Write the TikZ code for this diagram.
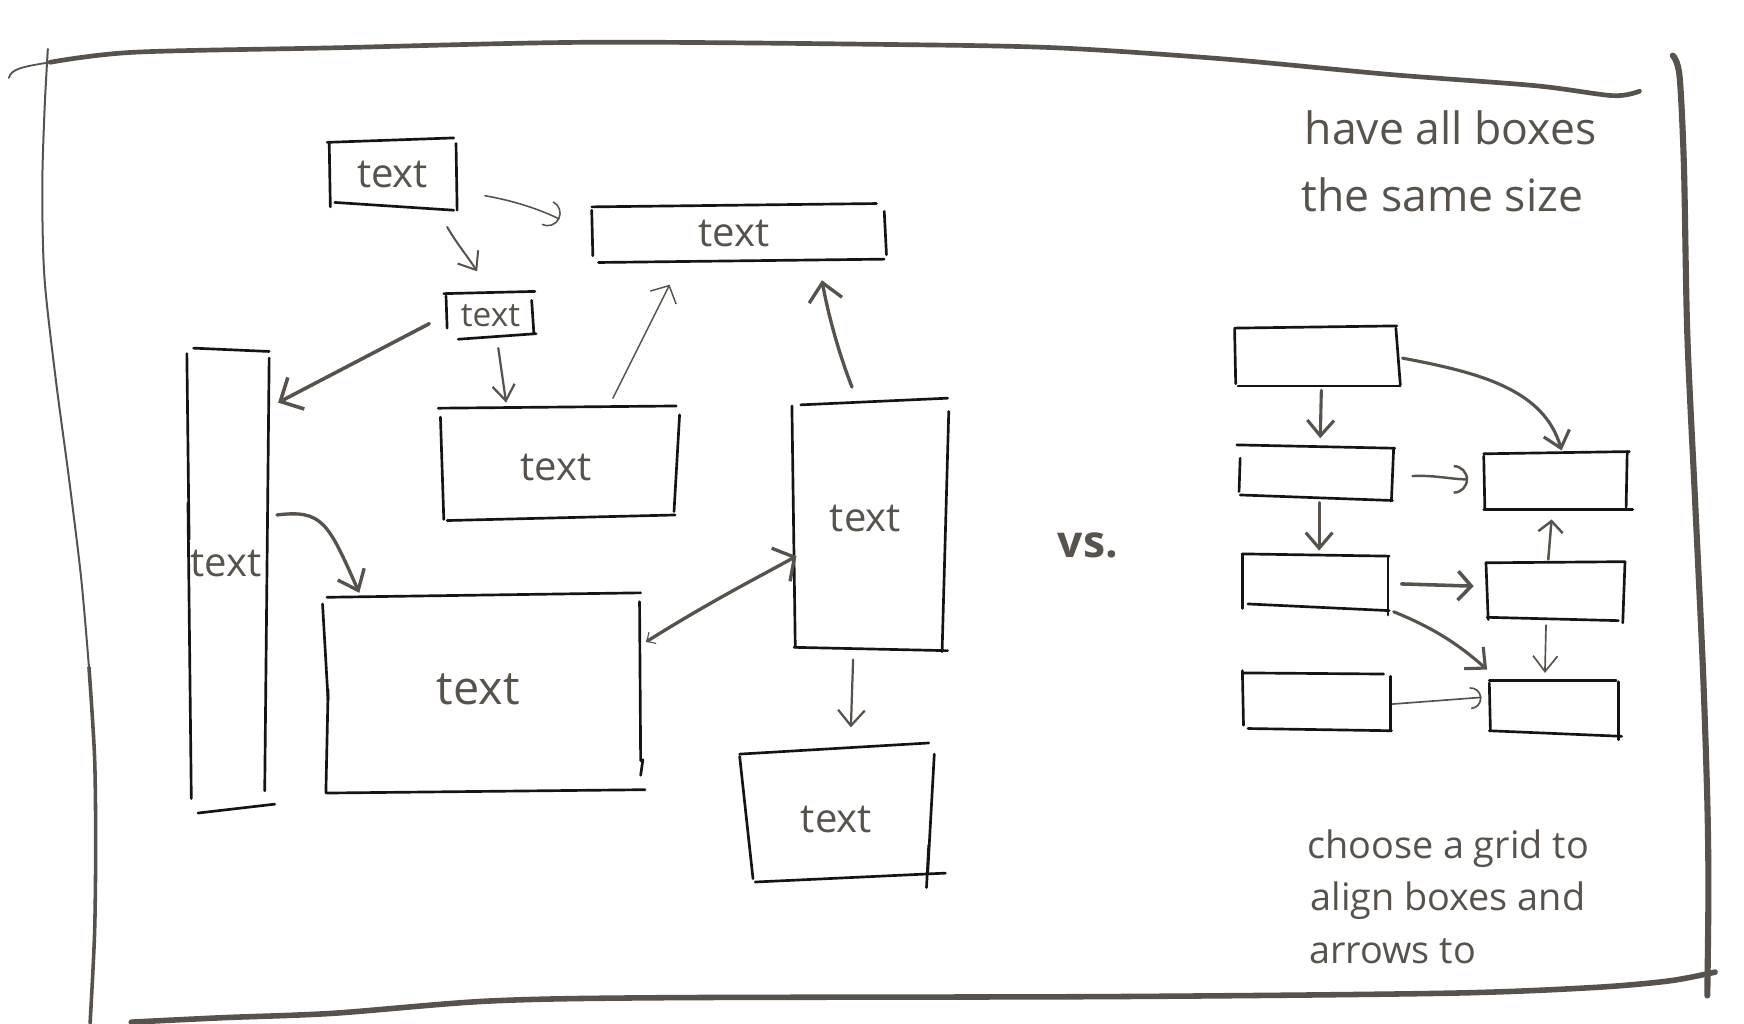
\documentclass[tikz,border=0pt]{standalone}
\usepackage{fontspec}
\setmainfont{Open Sans}
\usetikzlibrary{arrows.meta,calc}
\definecolor{ink}{HTML}{57524C}
\definecolor{pen}{HTML}{141414}
\begin{document}
\begin{tikzpicture}[x=1pt,y=-1pt,
  edge/.style={pen, line width=2.4pt, line cap=round},
  frame/.style={ink, line cap=round, line join=round},
  boxnode/.style={draw=none, inner sep=0pt, text=ink, font=\fontsize{36}{36}\selectfont},
  arw/.style={ink, line cap=round},
  sb/.style n args={2}{-{Straight Barb[length=#1pt,width=#2pt]}},
  ab/.style={-{Arc Barb[length=#1pt]}},
  note/.style={anchor=base west, inner sep=0pt, text=ink, font=\fontsize{40}{40}\selectfont},
  note2/.style={anchor=base west, inner sep=0pt, text=ink, font=\fontsize{34}{34}\selectfont}
]
\useasboundingbox (0,0) rectangle (1568,920);
\fill[white] (0,0) rectangle (1568,920);

% ---------- frame ----------
\draw[frame, line width=1.6pt] (8,70) .. controls (10,62) and (20,60) .. (45,56);
\draw[frame, line width=4.2pt] plot[smooth] coordinates {(45,56) (120,47) (300,43) (530,38) (800,40) (950,43) (1100,53) (1250,67) (1380,77) (1450,86) (1474,82)};
\draw[frame, line width=1.8pt] plot[smooth] coordinates {(43,44) (40,100) (38,170) (40,250) (50,340) (62,430) (73,520) (80,600)};
\draw[frame, line width=3.2pt] plot[smooth] coordinates {(80,600) (85,680) (86,760) (85,840) (81,920)};
\draw[frame, line width=5.5pt] plot[smooth] coordinates {(1504,50) (1510,68) (1514,150) (1517,300) (1524,450) (1531,600) (1535,720) (1536,800) (1535,895)};
\draw[frame, line width=5pt] plot[smooth] coordinates {(118,919) (200,915) (300,911) (440,900) (600,897) (1000,896) (1300,893) (1430,888) (1500,882) (1542,874)};

% ---------- left diagram: boxes ----------
\node[boxnode, minimum width=114pt, minimum height=63pt] (A) at (353,157) {text};
\draw[edge] (294,128) -- (408,124);
\draw[edge] (296,129) -- (297,186);
\draw[edge] (410,129) -- (411,189);
\draw[edge] (301,182) -- (408,189);

\node[boxnode, minimum width=263pt, minimum height=50pt] (B) at (660,210) {text};
\draw[edge] (532,186) -- (788,183);
\draw[edge] (532,189) -- (533,230);
\draw[edge] (795,190) -- (797,229);
\draw[edge] (538,236) -- (795,233);

\node[boxnode, minimum width=82pt, minimum height=40pt, font=\fontsize{30}{30}\selectfont] (C) at (441,284) {text};
\draw[edge] (399,264) -- (481,262);
\draw[edge] (401,266) -- (402,295);
\draw[edge] (478,270) -- (480,300);
\draw[edge] (412,305) -- (482,300);

\node[boxnode, minimum width=74pt, minimum height=410pt] (D) at (203,507) {text};
\draw[edge] (174,313) -- (242,316);
\draw[edge] (168,318) -- (170,485);
\draw[edge] (169,452) -- (172,718);
\draw[edge] (242,322) -- (238,711);
\draw[edge] (178,731) -- (247,723);

\node[boxnode, minimum width=215pt, minimum height=100pt] (E) at (500,420) {text};
\draw[edge] (394,367) -- (608,365);
\draw[edge] (396,375) -- (399,467);
\draw[edge] (611,373) -- (606,460);
\draw[edge] (402,468) -- (607,463);

\node[boxnode, minimum width=287pt, minimum height=178pt, font=\fontsize{42}{42}\selectfont] (F) at (430,620) {text};
\draw[edge] (294,537) -- (576,533);
\draw[edge] (290,543) -- (295,630);
\draw[edge] (295,620) -- (293,713);
\draw[edge] (575,541) -- (576,684);
\draw[edge] (578,683) -- (576,697);
\draw[edge] (294,713) -- (580,710);

\node[boxnode, minimum width=140pt, minimum height=224pt] (G) at (778,466) {text};
\draw[edge] (720,364) -- (852,358);
\draw[edge] (712,365) -- (715,582);
\draw[edge] (853,370) -- (847,586);
\draw[edge] (714,582) -- (852,585);

\node[boxnode, minimum width=175pt, minimum height=120pt] (H) at (752,737) {text};
\draw[edge] (665,678) -- (835,668);
\draw[edge] (665,680) -- (677,790);
\draw[edge] (840,678) -- (834,786);
\draw[edge] (679,793) -- (850,785);
\draw[edge] (835,760) -- (833,798);

% ---------- left diagram: arrows ----------
\draw[arw, line width=1.4pt, ab=12] (436,176) .. controls (460,180) and (485,188) .. (503,197);
\draw[arw, line width=1.8pt, sb={14}{22}] (402,204) .. controls (410,218) and (420,230) .. (429,244);
\draw[arw, line width=3.2pt, sb={16}{32}] (386,291) -- (250,362);
\draw[arw, line width=2pt, sb={14}{20}] (448,313) -- (455,362);
\draw[arw, line width=1.3pt, sb={12}{26}] (551,358) -- (602,256);
\draw[arw, line width=3pt, sb={16}{30}] (766,348) .. controls (755,320) and (745,285) .. (739,252);
\draw[arw, line width=3pt, sb={16}{26}] (249,463) .. controls (290,458) and (295,470) .. (323,533);
\draw[arw, line width=3pt, {Straight Barb[length=6pt,width=12pt,line width=1pt]}-{Straight Barb[length=14pt,width=34pt]}] (581,577) .. controls (640,540) and (680,520) .. (716,500);
\draw[arw, line width=2pt, sb={14}{24}] (767,593) -- (765,654);

% ---------- vs ----------
\node[anchor=center, inner sep=0pt, text=ink, font=\fontsize{40}{40}\selectfont\bfseries] (vs) at (978,490) {vs.};

% ---------- right diagram: boxes ----------
\node[boxnode, minimum width=148pt, minimum height=53pt] (R1) at (1184,320) {};
\draw[edge] (1110,295) -- (1256,293);
\draw[edge] (1110,296) -- (1111,345);
\draw[edge] (1255,295) -- (1259,346);
\draw[edge] (1113,347) -- (1259,347);

\node[boxnode, minimum width=140pt, minimum height=48pt] (R2) at (1183,425) {};
\draw[edge] (1112,400) -- (1254,403);
\draw[edge] (1115,412) -- (1114,442);
\draw[edge] (1253,403) -- (1251,450);
\draw[edge] (1115,445) -- (1252,450);

\node[boxnode, minimum width=132pt, minimum height=52pt] (R3) at (1183,523) {};
\draw[edge] (1117,498) -- (1249,500);
\draw[edge] (1117,498) -- (1117,547);
\draw[edge] (1248,500) -- (1248,553);
\draw[edge] (1122,543) -- (1249,549);

\node[boxnode, minimum width=133pt, minimum height=52pt] (R4) at (1184,630) {};
\draw[edge] (1118,605) -- (1244,606);
\draw[edge] (1117,603) -- (1118,652);
\draw[edge] (1250,608) -- (1250,656);
\draw[edge] (1122,655) -- (1251,657);

\node[boxnode, minimum width=131pt, minimum height=52pt] (S1) at (1400,432) {};
\draw[edge] (1334,408) -- (1465,406);
\draw[edge] (1334,410) -- (1335,458);
\draw[edge] (1463,406) -- (1462,456);
\draw[edge] (1334,458) -- (1468,458);

\node[boxnode, minimum width=125pt, minimum height=53pt] (S2) at (1398,531) {};
\draw[edge] (1336,506) -- (1461,505);
\draw[edge] (1336,506) -- (1338,557);
\draw[edge] (1461,505) -- (1459,560);
\draw[edge] (1337,555) -- (1455,558);

\node[boxnode, minimum width=117pt, minimum height=50pt] (S3) at (1397,636) {};
\draw[edge] (1339,612) -- (1453,612);
\draw[edge] (1339,614) -- (1340,657);
\draw[edge] (1455,613) -- (1455,665);
\draw[edge] (1339,657) -- (1458,662);

% ---------- right diagram: arrows ----------
\draw[arw, line width=2.8pt, sb={14}{24}] (1188,351) -- (1187,394);
\draw[arw, line width=2.8pt, sb={14}{24}] (1261,322) .. controls (1330,335) and (1388,350) .. (1404,405);
\draw[arw, line width=2.8pt, sb={14}{24}] (1186,452) -- (1186,495);
\draw[arw, line width=2.2pt, ab=13] (1270,428) .. controls (1290,427) and (1305,431) .. (1320,431);
\draw[arw, line width=3.2pt, sb={12}{26}] (1260,525) -- (1325,527);
\draw[arw, line width=2.8pt, sb={14}{26}] (1253,550) .. controls (1290,565) and (1312,580) .. (1337,602);
\draw[arw, line width=2.2pt, sb={10}{22}] (1392,503) -- (1395,467);
\draw[arw, line width=1.5pt, sb={14}{22}] (1390,562) -- (1389,605);
\draw[arw, line width=1.5pt, ab=10] (1252,633) -- (1332,627);

% ---------- notes ----------
\node[note] (n1) at (1173,130) {have all boxes};
\node[note] (n2) at (1170,190) {the same size};
\node[note2] (n3) at (1175,772) {choose a grid to};
\node[note2] (n4) at (1178,819) {align boxes and};
\node[note2] (n5) at (1177,866) {arrows to};
\end{tikzpicture}
\end{document}
